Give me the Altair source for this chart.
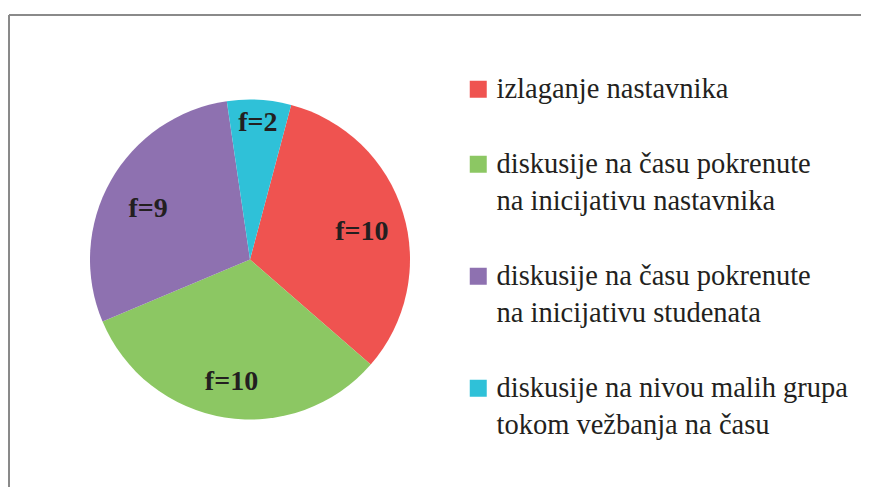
import math
import altair as alt
import pandas as pd

categories = [
    "izlaganje nastavnika",
    "diskusije na času pokrenute|na inicijativu nastavnika",
    "diskusije na času pokrenute|na inicijativu studenata",
    "diskusije na nivou malih grupa|tokom vežbanja na času",
]
frequencies = [10, 10, 9, 2]
slice_labels = ["f=10", "f=10", "f=9", "f=2"]
colors = ["#EF5350", "#8CC763", "#8E71B0", "#2FC1D8"]

df = pd.DataFrame({
    "kategorija": categories,
    "f": frequencies,
    "oznaka": slice_labels,
    "red": list(range(len(categories))),
})

W, H = 852, 472
FRAME = "#8a8a8a"
SERIF = "Liberation Serif"
INK = "#231F20"

start = 14.9 * math.pi / 180
theta = alt.Theta("f:Q", stack=True,
                  scale=alt.Scale(range=[start, start + 2 * math.pi]))
order = alt.Order("red:Q", sort="ascending")

color = alt.Color(
    "kategorija:N",
    scale=alt.Scale(domain=categories, range=colors),
    legend=alt.Legend(
        title=None, orient="none", legendX=455, legendY=60,
        symbolType="square", symbolSize=289, symbolStrokeWidth=0,
        labelFont=SERIF, labelFontSize=28.5, labelColor=INK,
        labelLimit=600, labelOffset=4, rowPadding=46,
        labelExpr="split(datum.label, '|')",
    ),
)

cx, cy = 241, 244.5
base = alt.Chart(df).encode(theta=theta, order=order)
pie = base.mark_arc(outerRadius=160).encode(
    color=color, x=alt.value(cx), y=alt.value(cy)
)
text_big = base.mark_text(
    radius=117, dy=7, font=SERIF, fontWeight="bold", fontSize=28, color=INK,
).encode(
    text=alt.condition("datum.f > 2", "oznaka:N", alt.value("")),
    x=alt.value(cx), y=alt.value(cy),
)
text_small = base.mark_text(
    radius=137, font=SERIF, fontWeight="bold", fontSize=28, color=INK,
).encode(
    text=alt.condition("datum.f <= 2", "oznaka:N", alt.value("")),
    x=alt.value(cx), y=alt.value(cy),
)

frame_top = alt.Chart(df).mark_rule(color=FRAME, strokeWidth=1.8).encode(
    x=alt.value(0), x2=alt.value(W + 5), y=alt.value(0))
frame_left = alt.Chart(df).mark_rule(color=FRAME, strokeWidth=1.8).encode(
    x=alt.value(0), y=alt.value(0), y2=alt.value(H + 20))

chart = (
    alt.layer(pie, text_big, text_small, frame_top, frame_left)
    .properties(
        width=W, height=H,
        autosize=alt.AutoSizeParams(type="none"),
        padding={"left": 1, "top": 7, "right": 0, "bottom": 0},
        background="white",
    )
    .configure(style={"guide-label": {"lineHeight": 37, "font": SERIF,
                                      "fontSize": 28.5, "fill": INK}})
    .configure_view(stroke=None)
)

chart.save("out.html", embed_options={"renderer": "svg", "actions": False})
